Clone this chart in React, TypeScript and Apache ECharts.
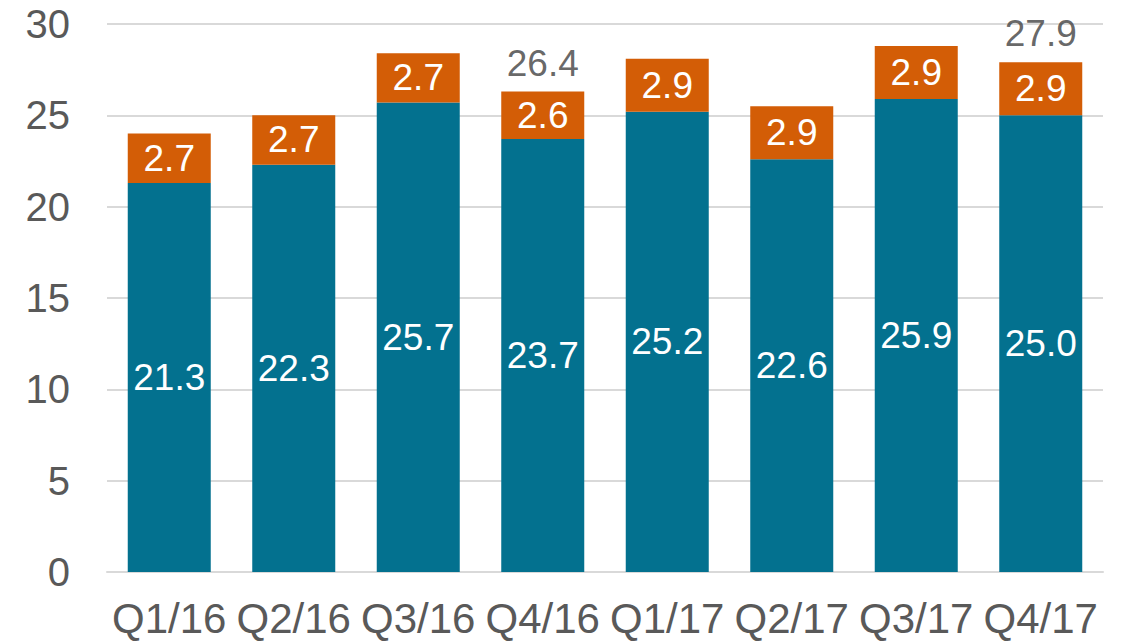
import React, { useEffect, useRef } from "react";
import * as echarts from "echarts";

const categories = ["Q1/16", "Q2/16", "Q3/16", "Q4/16", "Q1/17", "Q2/17", "Q3/17", "Q4/17"];
const baseValues = [21.3, 22.3, 25.7, 23.7, 25.2, 22.6, 25.9, 25.0];
const topValues = [2.7, 2.7, 2.7, 2.6, 2.9, 2.9, 2.9, 2.9];
const totalLabels: (number | null)[] = [null, null, null, 26.4, null, null, null, 27.9];

const FONT = "Liberation Sans, Arial, sans-serif";

export default function App() {
  const ref = useRef<HTMLDivElement>(null);
  useEffect(() => {
    if (!ref.current) return;
    const chart = echarts.init(ref.current, undefined, { renderer: "svg" });
    chart.setOption({
      animation: false,
      textStyle: { fontFamily: FONT },
      grid: { left: 107, right: 22, top: 24, bottom: 70, containLabel: false },
      xAxis: {
        type: "category",
        data: categories,
        axisLine: { show: true, lineStyle: { color: "#D9D9D9", width: 2 } },
        axisTick: { show: false },
        axisLabel: { color: "#595959", fontSize: 42, fontFamily: FONT, margin: 25, interval: 0 },
      },
      yAxis: {
        type: "value",
        min: 0,
        max: 30,
        interval: 5,
        axisLine: { show: false },
        axisTick: { show: false },
        splitLine: { lineStyle: { color: "#D9D9D9", width: 2 } },
        axisLabel: { color: "#595959", fontSize: 40, fontFamily: FONT, margin: 37 },
      },
      series: [
        {
          type: "bar",
          stack: "s",
          data: baseValues,
          barWidth: 83,
          itemStyle: { color: "#03718F" },
          label: {
            show: true,
            position: "inside",
            color: "#FFFFFF",
            fontSize: 37,
            fontFamily: FONT,
            formatter: (p: any) => Number(p.value).toFixed(1),
          },
        },
        {
          type: "bar",
          stack: "s",
          data: topValues,
          barWidth: 83,
          itemStyle: { color: "#D35D06" },
          label: {
            show: true,
            position: "inside",
            color: "#FFFFFF",
            fontSize: 37,
            fontFamily: FONT,
            formatter: (p: any) => Number(p.value).toFixed(1),
          },
        },
        {
          type: "scatter",
          data: totalLabels.map((v, i) => (v == null ? null : baseValues[i] + topValues[i])),
          symbolSize: 0,
          itemStyle: { color: "transparent" },
          label: {
            show: true,
            position: "top",
            distance: 10,
            color: "#404040",
            fontSize: 37,
            fontFamily: FONT,
            formatter: (p: any) => {
              const v = totalLabels[p.dataIndex];
              return v == null ? "" : v.toFixed(1);
            },
          },
        },
      ],
    });
    return () => chart.dispose();
  }, []);
  return (
    <div
      ref={ref}
      style={{ position: "fixed", left: 0, top: 0, width: 1125, height: 642, background: "#fff" }}
    />
  );
}
